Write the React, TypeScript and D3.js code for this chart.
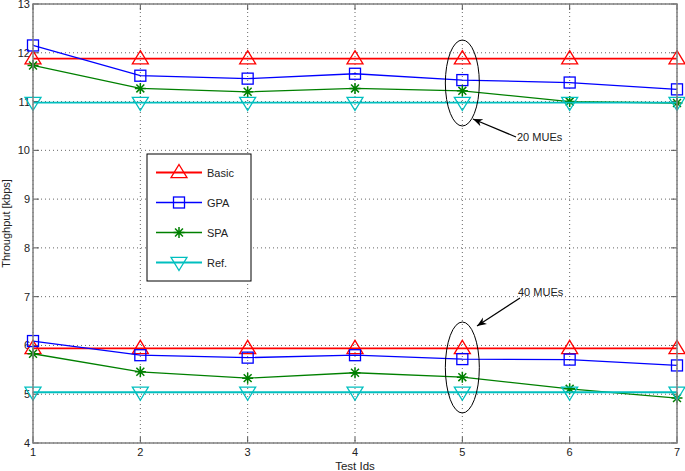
import React from "react";
import * as d3 from "d3";

const testIds = [1, 2, 3, 4, 5, 6, 7];
const basic20 = [11.88, 11.88, 11.88, 11.88, 11.88, 11.88, 11.88];
const gpa20 = [12.15, 11.53, 11.47, 11.57, 11.44, 11.39, 11.25];
const spa20 = [11.74, 11.27, 11.2, 11.27, 11.22, 11.0, 10.97];
const ref20 = [10.98, 10.98, 10.98, 10.98, 10.98, 10.98, 10.98];
const basic40 = [5.94, 5.94, 5.94, 5.94, 5.94, 5.94, 5.94];
const gpa40 = [6.09, 5.8, 5.75, 5.8, 5.72, 5.71, 5.59];
const spa40 = [5.83, 5.46, 5.33, 5.44, 5.35, 5.11, 4.92];
const ref40 = [5.04, 5.04, 5.04, 5.04, 5.04, 5.04, 5.04];
const yTicks = [4, 5, 6, 7, 8, 9, 10, 11, 12, 13];
const seriesNames = ["Basic", "GPA", "SPA", "Ref."];
const seriesColors = ["#ff0000", "#0000ff", "#008000", "#00bfbf"];
const annotations = ["20 MUEs", "40 MUEs"];

const W = 685, H = 471;
const L = 33, R = 677, T = 4, B = 443;
const FONT = "'Liberation Sans', Arial, sans-serif";

function Marker({ kind, x, y, color }: { kind: number; x: number; y: number; color: string }) {
  if (kind === 0) {
    const s = 8;
    return <path d={`M${x},${y - s} L${x + s},${y + s * 0.65} L${x - s},${y + s * 0.65} Z`} fill="none" stroke={color} strokeWidth={1.3} />;
  }
  if (kind === 1) {
    const s = 5.5;
    return <rect x={x - s} y={y - s} width={2 * s} height={2 * s} fill="none" stroke={color} strokeWidth={1.3} />;
  }
  if (kind === 2) {
    const s = 5.5, d = s * 0.72;
    return (
      <path d={`M${x - s},${y}L${x + s},${y}M${x},${y - s}L${x},${y + s}M${x - d},${y - d}L${x + d},${y + d}M${x - d},${y + d}L${x + d},${y - d}`} stroke={color} strokeWidth={1.5} />
    );
  }
  const s = 8;
  return <path d={`M${x},${y + s} L${x + s},${y - s * 0.65} L${x - s},${y - s * 0.65} Z`} fill="none" stroke={color} strokeWidth={1.3} />;
}

export default function App() {
  const x = d3.scaleLinear().domain([1, 7]).range([L, R]);
  const y = d3.scaleLinear().domain([4, 13]).range([B, T]);
  const line = d3.line<[number, number]>().x((d) => x(d[0])).y((d) => y(d[1]));

  const groups = [
    [basic20, gpa20, spa20, ref20],
    [basic40, gpa40, spa40, ref40],
  ];
  const widths = [1.8, 1.3, 1.3, 1.8];

  return (
    <svg width={W} height={H} style={{ position: "absolute", left: 0, top: 0, background: "#fff" }} fontFamily={FONT}>
      <rect x={0} y={0} width={W} height={H} fill="#fff" />
      {/* grid */}
      {testIds.map((t) => (
        <line key={"gx" + t} x1={x(t)} x2={x(t)} y1={T} y2={B} stroke="#000" strokeWidth={0.6} strokeDasharray="1,3" />
      ))}
      {yTicks.map((t) => (
        <line key={"gy" + t} x1={L} x2={R} y1={y(t)} y2={y(t)} stroke="#000" strokeWidth={0.6} strokeDasharray="1,3" />
      ))}
      {/* ticks */}
      {testIds.map((t) => (
        <g key={"tx" + t}>
          <line x1={x(t)} x2={x(t)} y1={B} y2={B - 6} stroke="#555" />
          <line x1={x(t)} x2={x(t)} y1={T} y2={T + 6} stroke="#555" />
          <text x={x(t)} y={B + 13} fontSize={11} textAnchor="middle" fill="#222">{t}</text>
        </g>
      ))}
      {yTicks.map((t) => (
        <g key={"ty" + t}>
          <line x1={L} x2={L + 6} y1={y(t)} y2={y(t)} stroke="#555" />
          <line x1={R} x2={R - 6} y1={y(t)} y2={y(t)} stroke="#555" />
          <text x={L - 3} y={y(t) + 4} fontSize={11} textAnchor="end" fill="#222">{t}</text>
        </g>
      ))}
      {/* series */}
      {groups.map((g, gi) =>
        g.map((vals, si) => {
          const pts = testIds.map((t, i) => [t, vals[i]] as [number, number]);
          return (
            <g key={gi + "-" + si}>
              <path d={line(pts) || ""} fill="none" stroke={seriesColors[si]} strokeWidth={widths[si]} />
              {pts.map((p, i) => (
                <Marker key={i} kind={si} x={x(p[0])} y={y(p[1])} color={seriesColors[si]} />
              ))}
            </g>
          );
        })
      )}
      {/* box */}
      <rect x={L} y={T} width={R - L} height={B - T} fill="none" stroke="#808080" strokeWidth={1.5} />
      {/* labels */}
      <text x={(L + R) / 2} y={470} fontSize={11.5} textAnchor="middle" fill="#222">Test Ids</text>
      <text transform={`translate(10,${(T + B) / 2}) rotate(-90)`} fontSize={11} textAnchor="middle" fill="#222">Throughput [kbps]</text>
      {/* legend */}
      <rect x={147} y={154} width={104} height={127} fill="#fff" stroke="#000" strokeWidth={1} />
      {seriesNames.map((n, i) => {
        const ly = 172.5 + i * 30;
        return (
          <g key={n}>
            <line x1={156} x2={202} y1={ly} y2={ly} stroke={seriesColors[i]} strokeWidth={widths[i]} />
            <Marker kind={i} x={179} y={ly} color={seriesColors[i]} />
            <text x={207} y={ly + 4} fontSize={11} fill="#222">{n}</text>
          </g>
        );
      })}
      {/* annotations */}
      <defs>
        <marker id="arr" viewBox="0 0 10 10" refX={10} refY={5} markerWidth={8} markerHeight={8} orient="auto-start-reverse">
          <path d="M0,1 L10,5 L0,9 L3,5 Z" fill="#000" />
        </marker>
      </defs>
      <ellipse cx={x(5)} cy={83} rx={17} ry={43} fill="none" stroke="#000" strokeWidth={1} />
      <line x1={516} y1={137} x2={473} y2={119} stroke="#000" strokeWidth={1.2} markerEnd="url(#arr)" />
      <text x={517} y={141} fontSize={11} fill="#222">{annotations[0]}</text>
      <ellipse cx={x(5)} cy={367.5} rx={17} ry={45.5} fill="none" stroke="#000" strokeWidth={1} />
      <line x1={520} y1={298} x2={477} y2={326} stroke="#000" strokeWidth={1.2} markerEnd="url(#arr)" />
      <text x={518} y={296} fontSize={11} fill="#222">{annotations[1]}</text>
    </svg>
  );
}
